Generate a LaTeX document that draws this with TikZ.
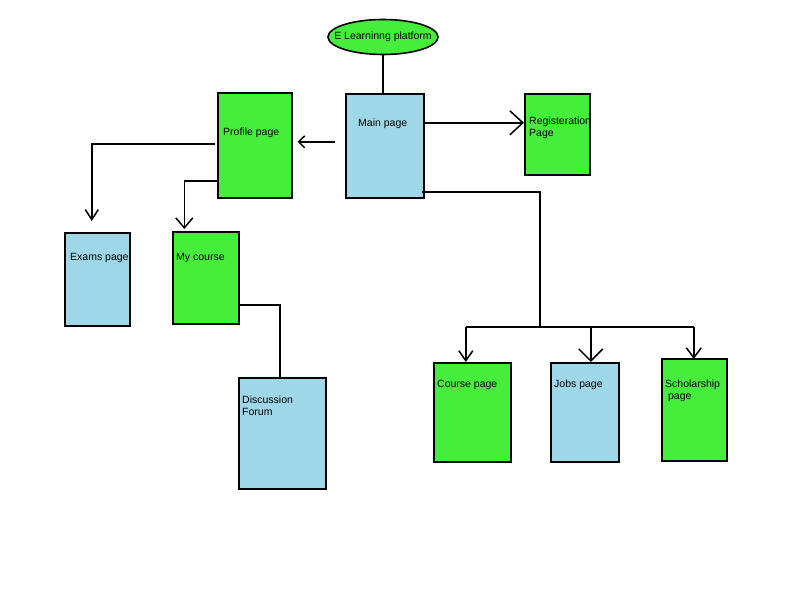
\documentclass[tikz,border=0pt]{standalone}
\usepackage{fontspec}
\setmainfont{Liberation Sans}
\usetikzlibrary{arrows.meta,shapes.geometric}
\definecolor{pagegreen}{RGB}{68,238,58}
\definecolor{pageblue}{RGB}{158,216,232}
\tikzset{
  box/.style={draw=black, line width=1.6pt, rectangle, anchor=north west, inner sep=0pt},
  greenbox/.style={box, fill=pagegreen},
  bluebox/.style={box, fill=pageblue},
  txt/.style={anchor=north west, inner sep=0pt, align=left,
    font=\fontsize{10.5pt}{12pt}\selectfont, text=black},
  link/.style={line width=1.5pt, draw=black},
  arr/.style 2 args={link, -{Straight Barb[length=#1,width=#2,line width=1.5pt]}},
}
\begin{document}
\begin{tikzpicture}[x=1pt,y=-1pt]
  \useasboundingbox[fill=white] (0,0) rectangle (811,591);

  % title ellipse
  \node[ellipse, draw=black, line width=1.6pt, fill=pagegreen,
        minimum width=110pt, minimum height=35pt, inner sep=0pt,
        font=\fontsize{10.5pt}{12pt}\selectfont] (title) at (383,37)
        {\makebox[0pt]{E Learninng platform}};

  % page boxes
  \node[bluebox, minimum width=78pt, minimum height=104pt,
        label={[txt, shift={(13pt,-26pt)}]north west:Main page}] (main) at (345,93) {};
  \node[greenbox, minimum width=74pt, minimum height=105pt,
        label={[txt, shift={(6pt,-36pt)}]north west:Profile page}] (profile) at (217,92) {};
  \node[greenbox, minimum width=65pt, minimum height=81pt,
        label={[txt, shift={(5pt,-24pt)}]north west:Registeration\\Page}] (reg) at (524,93) {};
  \node[bluebox, minimum width=65pt, minimum height=93pt,
        label={[txt, shift={(6pt,-21pt)}]north west:Exams page}] (exams) at (64,232) {};
  \node[greenbox, minimum width=66pt, minimum height=92pt,
        label={[txt, shift={(4pt,-22pt)}]north west:My course}] (mycourse) at (172,231) {};
  \node[bluebox, minimum width=87pt, minimum height=111pt,
        label={[txt, shift={(4pt,-19pt)}]north west:Discussion\\Forum}] (forum) at (238,377) {};
  \node[greenbox, minimum width=77pt, minimum height=99pt,
        label={[txt, shift={(4pt,-18pt)}]north west:Course page}] (course) at (433,362) {};
  \node[bluebox, minimum width=68pt, minimum height=99pt,
        label={[txt, shift={(4pt,-18pt)}]north west:Jobs page}] (jobs) at (550,362) {};
  \node[greenbox, minimum width=65pt, minimum height=102pt,
        label={[txt, shift={(4pt,-22pt)}]north west:Scholarship\\\ page}] (schol) at (661,358) {};

  % title to main page
  \draw[link] (title.south) -- (title.south |- main.north);

  % main page to profile page
  \draw[arr={6pt}{12pt}] ([xshift=-10pt,yshift=4pt]main.west) -- ([xshift=5pt,yshift=4pt]main.west -| profile.east);

  % main page to registration page
  \coordinate (m1) at ([yshift=23pt]main.east);
  \draw[arr={13pt}{24pt}] (m1) -- (m1 -| reg.west);

  % main page to the three lower pages
  \coordinate (m2) at ([xshift=-3pt,yshift=-46pt]main.east);
  \coordinate (hub) at (540,327);
  \draw[link] (m2) -| (hub);
  \coordinate (c1) at ([xshift=-6.5pt]course.north);
  \coordinate (c2) at ([xshift=6pt]jobs.north);
  \coordinate (c3) at ([xshift=-0.5pt,yshift=-1pt]schol.north);
  \draw[link] (c1 |- hub) -- (c3 |- hub);
  \draw[arr={10pt}{14pt}] (c1 |- hub) -- (c1);
  \draw[arr={12pt}{24pt}] (c2 |- hub) -- (c2);
  \draw[arr={10pt}{15pt}] (c3 |- hub) -- (c3);

  % profile page to exams page and my course
  \coordinate (p1) at ([xshift=-2pt,yshift=1.5pt]profile.west);
  \coordinate (e1) at ([xshift=-5.5pt,yshift=11pt]exams.north);
  \draw[arr={10pt}{13pt}] (p1) -| (e1);
  \coordinate (p2) at ([yshift=-35.5pt]profile.west);
  \coordinate (e2) at ([xshift=-21.5pt,yshift=2pt]mycourse.north);
  \draw[arr={10pt}{17pt}] (p2) -| (e2);

  % my course to discussion forum
  \coordinate (f1) at ([yshift=-27pt]mycourse.east);
  \coordinate (f2) at ([xshift=-2.5pt]forum.north);
  \draw[link] (f1) -| (f2);
\end{tikzpicture}
\end{document}
